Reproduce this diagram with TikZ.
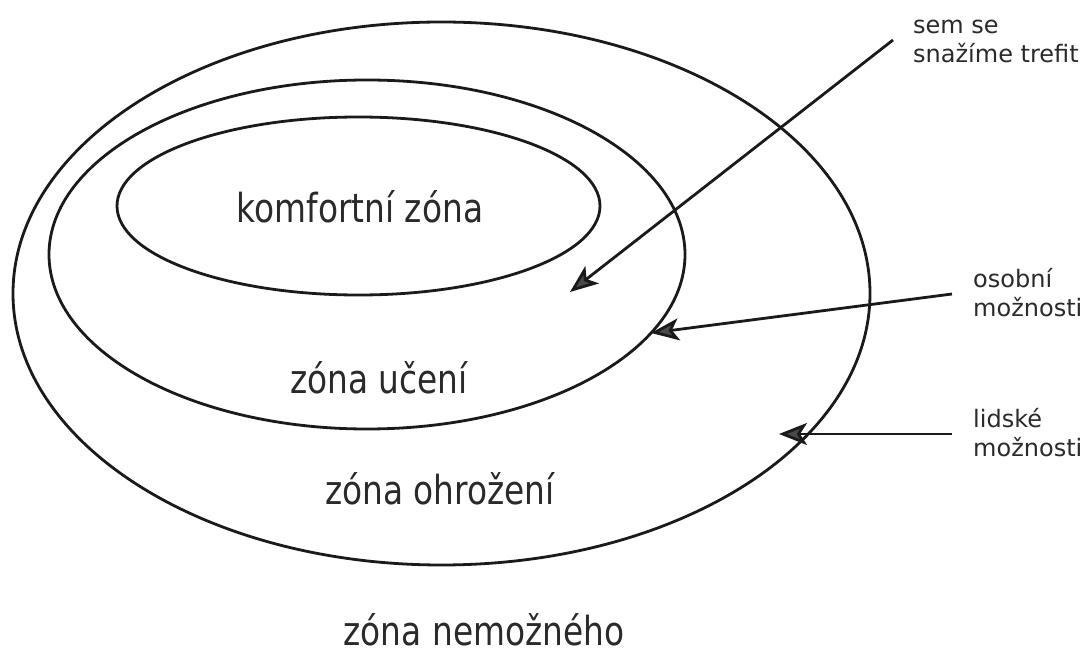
\documentclass[tikz,border=0pt]{standalone}
\usepackage{fontspec}
\setmainfont{DejaVu Sans}
\newfontfamily\bigf{DejaVu Sans}[FakeStretch=0.82]
\usetikzlibrary{shapes.geometric,arrows.meta}
\definecolor{ink}{HTML}{1A1A1A}
\definecolor{txt}{HTML}{2A2A2A}
\definecolor{tipgray}{HTML}{4A4A4A}
\tikzset{
  zone/.style={draw=ink, line width=2.8pt, ellipse, inner sep=0pt},
  bigtxt/.style={text=txt, font=\bigf\fontsize{40}{44}\selectfont, anchor=base, inner sep=0pt},
  smalltxt/.style={text=txt, font=\fontsize{24}{29}\selectfont, anchor=base west, align=left, inner sep=0pt},
  pointer/.style={draw=ink, line width=2.8pt, -{Stealth[length=28pt,width=22pt,inset=7pt,fill=tipgray]}}
}
\begin{document}
\begin{tikzpicture}[x=1pt,y=-1pt]
\useasboundingbox[fill=white] (0,0) rectangle (1088,655);
\node[zone, minimum width=857pt, minimum height=543pt] (outer) at (441.5,293.5) {};
\node[zone, minimum width=636pt, minimum height=349pt] (mid) at (367,254.5) {};
\node[zone, minimum width=483pt, minimum height=178pt] (inner) at (358.5,206) {};
\node[bigtxt] (komf) at (360,223) {komfortní zóna};
\node[bigtxt] (uceni) at (379,393) {zóna učení};
\node[bigtxt] (ohroz) at (440,504) {zóna ohrožení};
\node[bigtxt] (nemoz) at (484,645) {zóna nemožného};
\node[smalltxt] (sem) at (913,63) {sem se\\snažíme trefit};
\node[smalltxt] (osob) at (973,317) {osobní\\možnosti};
\node[smalltxt] (lids) at (973,456) {lidské\\možnosti};
\coordinate (s1) at (893,40);
\coordinate (e1) at (570,292);
\coordinate (s2) at (952,294);
\coordinate (e2) at (651,333);
\coordinate (s3) at (952,434);
\coordinate (e3) at (779,434);
\draw[pointer] (s1) -- (e1);
\draw[pointer] (s2) -- (e2);
\draw[pointer] (s3) -- (e3);
\end{tikzpicture}
\end{document}
